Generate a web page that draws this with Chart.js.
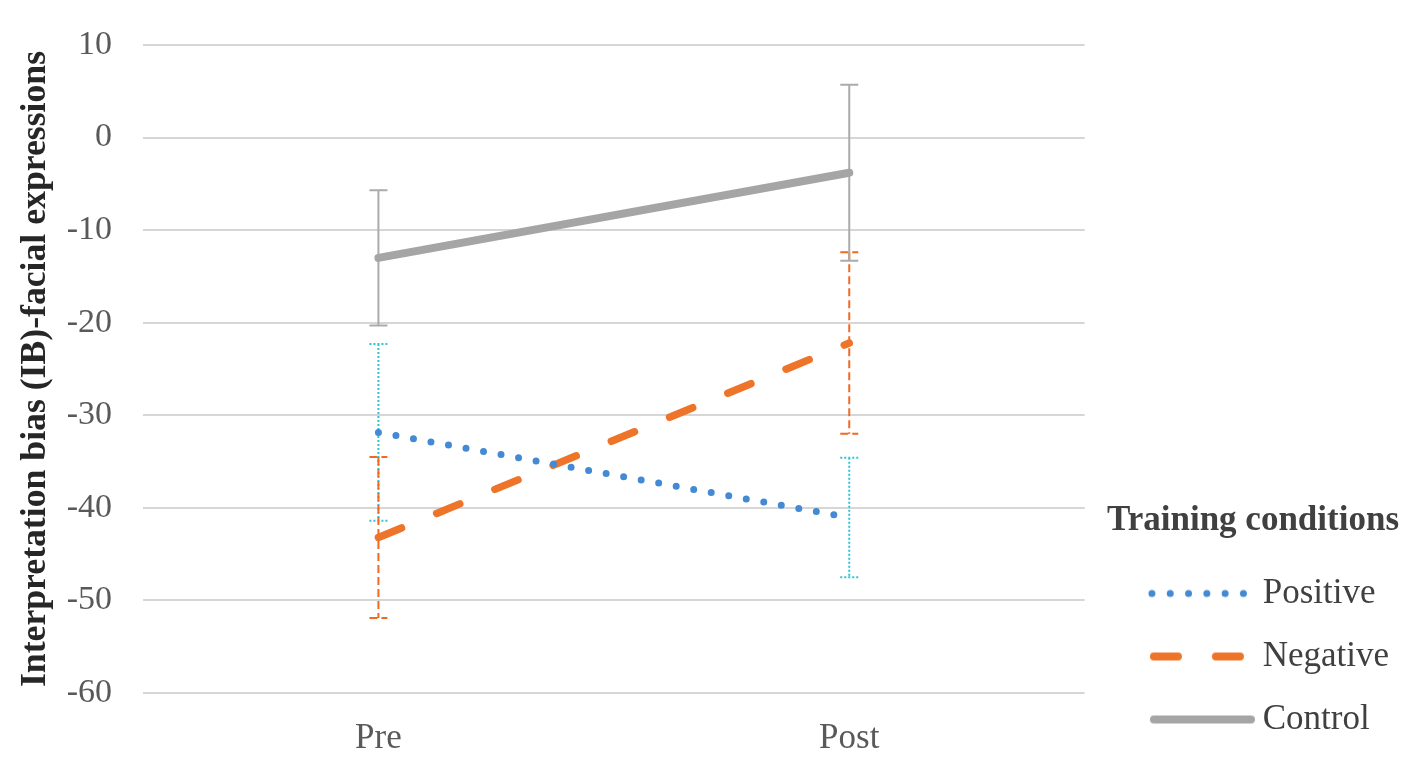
<!DOCTYPE html>
<html>
<head>
<meta charset="utf-8">
<script src="https://cdn.jsdelivr.net/npm/chart.js@4.4.1/dist/chart.umd.min.js"></script>
<style>
  html, body { margin: 0; padding: 0; background: #fff; }
  #wrap { width: 1417px; height: 760px; position: relative; }
</style>
</head>
<body>
<div id="wrap"><canvas id="c"></canvas></div>
<script>
// values
const phases = ['Pre', 'Post'];
const seriesNames = ['Positive', 'Negative', 'Control'];
const positiveMean = [-31.85, -41.05];
const positiveErr = [9.55, 6.45];
const negativeMean = [-43.2, -22.2];
const negativeErr = [8.7, 9.8];
const controlMean = [-13.0, -3.8];
const controlErr = [7.3, 9.5];
const yTicks = [10, 0, -10, -20, -30, -40, -50, -60];

const serif = "'Liberation Serif', 'Times New Roman', serif";

// little line samples for the legend
function sample(kind) {
	let cv = document.createElement('canvas');
	cv.width = 152; cv.height = 16;
	let g = cv.getContext('2d');
	g.lineCap = 'round';
	g.beginPath();
	if (kind === 0) {
		g.strokeStyle = '#4389d4'; g.lineWidth = 7; g.setLineDash([0, 18.3]);
		g.moveTo(49, 8); g.lineTo(142, 8);
	} else if (kind === 1) {
		g.strokeStyle = '#ed7428'; g.lineWidth = 8; g.setLineDash([24, 38]);
		g.moveTo(51, 8); g.lineTo(138, 8);
	} else {
		g.strokeStyle = '#a5a5a5'; g.lineWidth = 8;
		g.moveTo(51, 8); g.lineTo(148, 8);
	}
	g.stroke();
	return cv;
}
const samples = [sample(0), sample(1), sample(2)];

const errStyles = [
	{ color: '#2ec4d0', dash: [2, 2] },
	{ color: '#f06a22', dash: [8, 4] },
	{ color: '#ababab', dash: [] }
];
const errData = [positiveErr, negativeErr, controlErr];

let errorBars = {
	id: 'errorBars',
	beforeDatasetsDraw(chart) {
		let ctx = chart.ctx;
		let xs = chart.scales.x, ys = chart.scales.y;
		chart.data.datasets.forEach((ds, i) => {
			ctx.save();
			ctx.strokeStyle = errStyles[i].color;
			ctx.lineWidth = 2;
			ctx.setLineDash(errStyles[i].dash);
			ds.data.forEach((v, j) => {
				let x = xs.getPixelForValue(j);
				let top = ys.getPixelForValue(v + errData[i][j]);
				let bot = ys.getPixelForValue(v - errData[i][j]);
				ctx.beginPath();
				ctx.moveTo(x, top); ctx.lineTo(x, bot);
				ctx.moveTo(x - 9, top); ctx.lineTo(x + 9, top);
				ctx.moveTo(x - 9, bot); ctx.lineTo(x + 9, bot);
				ctx.stroke();
			});
			ctx.restore();
		});
	}
};

new Chart(document.getElementById('c'), {
	type: 'line',
	data: {
		labels: phases,
		datasets: [
			{ label: seriesNames[0], data: positiveMean, borderColor: '#4389d4', borderWidth: 7, borderDash: [0, 17.8], borderCapStyle: 'round' },
			{ label: seriesNames[1], data: negativeMean, borderColor: '#ed7428', borderWidth: 7.5, borderDash: [25, 38], borderCapStyle: 'round' },
			{ label: seriesNames[2], data: controlMean, borderColor: '#a5a5a5', borderWidth: 8, borderCapStyle: 'round' }
		]
	},
	options: {
		responsive: true,
		maintainAspectRatio: false,
		animation: false,
		devicePixelRatio: 1,
		elements: { point: { radius: 0, hoverRadius: 0 }, line: { tension: 0 } },
		layout: { padding: { top: 45, bottom: -5, left: 0, right: 18 } },
		scales: {
			x: {
				offset: true,
				afterFit: s => { s.height = 72; },
				grid: { display: false, drawTicks: false },
				border: { display: false },
				ticks: { color: '#595959', font: { family: serif, size: 35 }, padding: 25 }
			},
			y: {
				min: -60, max: 10,
				afterFit: s => { s.width = 143; s.paddingTop = 0; s.paddingBottom = 0; },
				afterBuildTicks: s => { s.ticks = yTicks.map(v => ({ value: v })); },
				grid: { color: '#d6d6d6', lineWidth: 2, drawTicks: false },
				border: { display: false },
				ticks: { color: '#595959', font: { family: serif, size: 34 }, padding: 31 },
				title: {
					display: true,
					text: 'Interpretation bias (IB)-facial expressions',
					color: '#262626',
					font: { family: serif, size: 35.7, weight: 'bold' },
					padding: { top: 14, bottom: 0 }
				}
			}
		},
		plugins: {
			tooltip: { enabled: false },
			legend: {
				position: 'right',
				align: 'end',
				title: {
					display: true,
					text: 'Training conditions',
					position: 'end',
					color: '#404040',
					font: { family: serif, size: 35, weight: 'bold' },
					padding: 3
				},
				labels: {
					usePointStyle: true,
					pointStyleWidth: 132.5,
					padding: 28,
					color: '#404040',
					font: { family: serif, size: 35 },
					generateLabels: chart => Chart.defaults.plugins.legend.labels.generateLabels(chart)
						.map((it, i) => ({ ...it, pointStyle: samples[i] }))
				}
			}
		}
	},
	plugins: [errorBars]
});
</script>
</body>
</html>
